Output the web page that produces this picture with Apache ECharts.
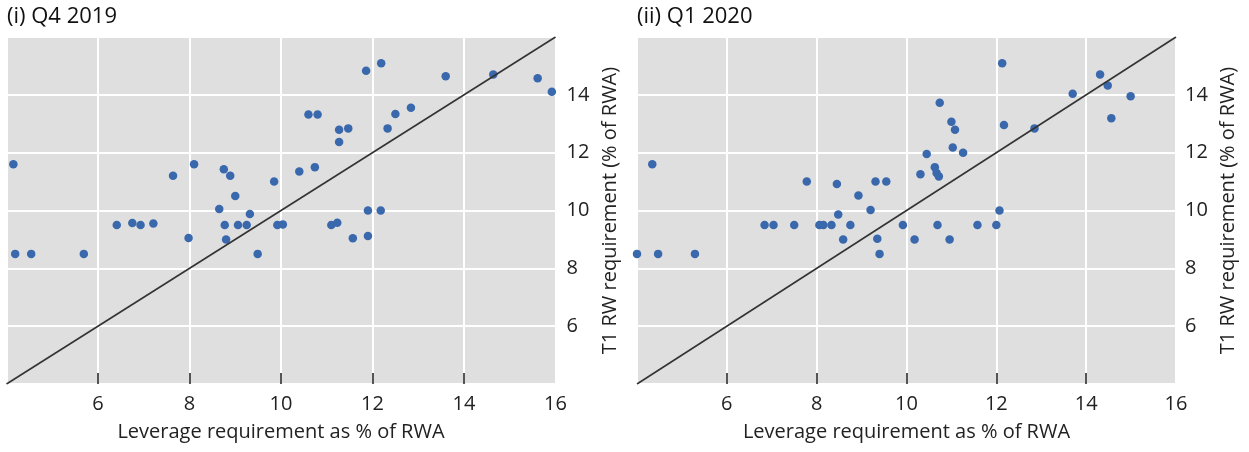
<!DOCTYPE html>
<html>
<head>
<meta charset="utf-8">
<script src="https://cdn.jsdelivr.net/npm/echarts@6/dist/echarts.min.js"></script>
<style>
html,body{margin:0;padding:0;background:#fff;}
#chart{width:1249px;height:452px;}
</style>
</head>
<body>
<div id="chart"></div>
<script>
// ---- Data ----
const q4Leverage = [4.15,4.19,4.54,5.69,6.41,6.75,6.93,7.21,7.64,8.1,7.98,8.65,8.75,8.89,9.0,8.77,8.8,9.06,9.25,9.32,9.49,9.85,9.92,10.04,10.4,10.74,10.6,10.8,11.27,11.47,11.27,11.1,11.23,11.57,11.9,11.9,12.18,11.86,12.19,12.33,12.5,12.84,13.6,14.64,15.61,15.92];
const q4T1 = [11.6,8.5,8.5,8.5,9.5,9.57,9.5,9.55,11.2,11.6,9.05,10.05,11.43,11.2,10.5,9.5,9.0,9.5,9.5,9.88,8.5,11.0,9.5,9.52,11.35,11.5,13.32,13.32,12.79,12.84,12.37,9.5,9.58,9.04,9.12,10.0,10.0,14.83,15.09,12.84,13.34,13.55,14.64,14.7,14.57,14.11];
const q1Leverage = [4.0,4.34,4.47,5.29,6.84,7.04,7.5,7.78,8.06,8.15,8.33,8.45,8.48,8.59,8.75,8.93,9.2,9.31,9.55,9.35,9.4,9.92,10.18,10.31,10.45,10.63,10.67,10.72,10.69,10.74,10.96,11.0,11.08,11.03,11.26,11.58,12.0,12.07,12.13,12.17,12.85,13.7,14.31,14.48,14.56,14.99];
const q1T1 = [8.5,11.6,8.5,8.5,9.5,9.5,9.5,11.0,9.5,9.5,9.5,10.92,9.86,9.0,9.5,10.52,10.02,11.0,11.0,9.02,8.5,9.5,9.0,11.25,11.95,11.5,11.3,11.18,9.5,13.73,9.0,13.07,12.79,12.18,12.0,9.5,9.5,10.0,15.09,12.96,12.84,14.04,14.7,14.32,13.19,13.95];
const parityLine = [4, 16];               // y = x reference line end points
const xTickLabels = [6, 8, 10, 12, 14, 16];
const xTickMarks = [6, 8, 10, 12, 14];
const yTickLabels = [6, 8, 10, 12, 14];
const panelTitles = ['(i) Q4 2019', '(ii) Q1 2020'];
const xAxisTitle = 'Leverage requirement as % of RWA';
const yAxisTitle = 'T1 RW requirement (% of RWA)';

// ---- Build ----
const FONT = 'Open Sans';
const pairs = (xs, ys) => xs.map((x, i) => [x, ys[i]]);
const parityData = parityLine.map(v => [v, v]);

const grids = [
  {left: 6.5, top: 37, width: 549, height: 347},
  {left: 637, top: 37, width: 539, height: 347}
];
const yLabelMargin = [11, 9];
const yNameGap = [45, 42];

function xAxisFor(i) {
  return {
    gridIndex: i, type: 'value', min: 4, max: 16, interval: 2,
    position: 'bottom',
    name: xAxisTitle, nameLocation: 'middle', nameGap: 38,
    nameTextStyle: {fontFamily: FONT, fontSize: 20, color: '#222'},
    axisLine: {show: false},
    axisTick: {show: false},
    axisLabel: {fontFamily: FONT, fontSize: 20, color: '#222', margin: 10,
                customValues: xTickLabels,
                formatter: v => xTickLabels.includes(v) ? String(v) : ''},
    splitLine: {show: true, lineStyle: {color: '#ffffff', width: 2}},
    z: 0
  };
}
// separate overlay axis carrying only the inside tick marks (drawn above the white grid lines)
function xTickAxisFor(i) {
  return {
    gridIndex: i, type: 'value', min: 4, max: 16, interval: 2,
    position: 'bottom',
    axisLine: {show: false},
    axisTick: {show: true, inside: true, length: 11, customValues: xTickMarks,
               lineStyle: {color: '#555555', width: 2}},
    axisLabel: {show: false},
    splitLine: {show: false},
    z: 3
  };
}
function yAxisFor(i) {
  return {
    gridIndex: i, type: 'value', min: 4, max: 16, interval: 2,
    position: 'right',
    name: yAxisTitle, nameLocation: 'middle', nameGap: yNameGap[i], nameRotate: 90,
    nameTextStyle: {fontFamily: FONT, fontSize: 20, color: '#222'},
    axisLine: {show: false},
    axisTick: {show: false},
    axisLabel: {fontFamily: FONT, fontSize: 20, color: '#222', margin: yLabelMargin[i],
                customValues: yTickLabels,
                formatter: v => yTickLabels.includes(v) ? String(v) : ''},
    splitLine: {show: true, lineStyle: {color: '#ffffff', width: 2}}
  };
}
function scatter(i, data) {
  return {
    type: 'scatter', xAxisIndex: i, yAxisIndex: i, data: data,
    symbol: 'circle', symbolSize: 8.5, clip: false,
    itemStyle: {color: '#3a68ad', opacity: 1},
    z: 3, silent: true
  };
}
function diag(i) {
  return {
    type: 'line', xAxisIndex: i, yAxisIndex: i, data: parityData,
    symbol: 'none', lineStyle: {color: '#333333', width: 1.6},
    z: 4, silent: true, animation: false
  };
}

const option = {
  animation: false,
  backgroundColor: '#ffffff',
  textStyle: {fontFamily: FONT},
  title: [
    {text: panelTitles[0], left: 2, top: 1,
     textStyle: {fontFamily: FONT, fontSize: 22, fontWeight: 'normal', color: '#111'}},
    {text: panelTitles[1], left: 632, top: 1,
     textStyle: {fontFamily: FONT, fontSize: 22, fontWeight: 'normal', color: '#111'}}
  ],
  grid: grids.map(g => Object.assign({show: true, backgroundColor: '#dfdfdf', borderWidth: 0, containLabel: false}, g)),
  xAxis: [xAxisFor(0), xAxisFor(1), xTickAxisFor(0), xTickAxisFor(1)],
  yAxis: [yAxisFor(0), yAxisFor(1)],
  series: [
    scatter(0, pairs(q4Leverage, q4T1)),
    diag(0),
    scatter(1, pairs(q1Leverage, q1T1)),
    diag(1)
  ]
};

const chart = echarts.init(document.getElementById('chart'), null, {renderer: 'canvas'});
chart.setOption(option);
</script>
</body>
</html>
